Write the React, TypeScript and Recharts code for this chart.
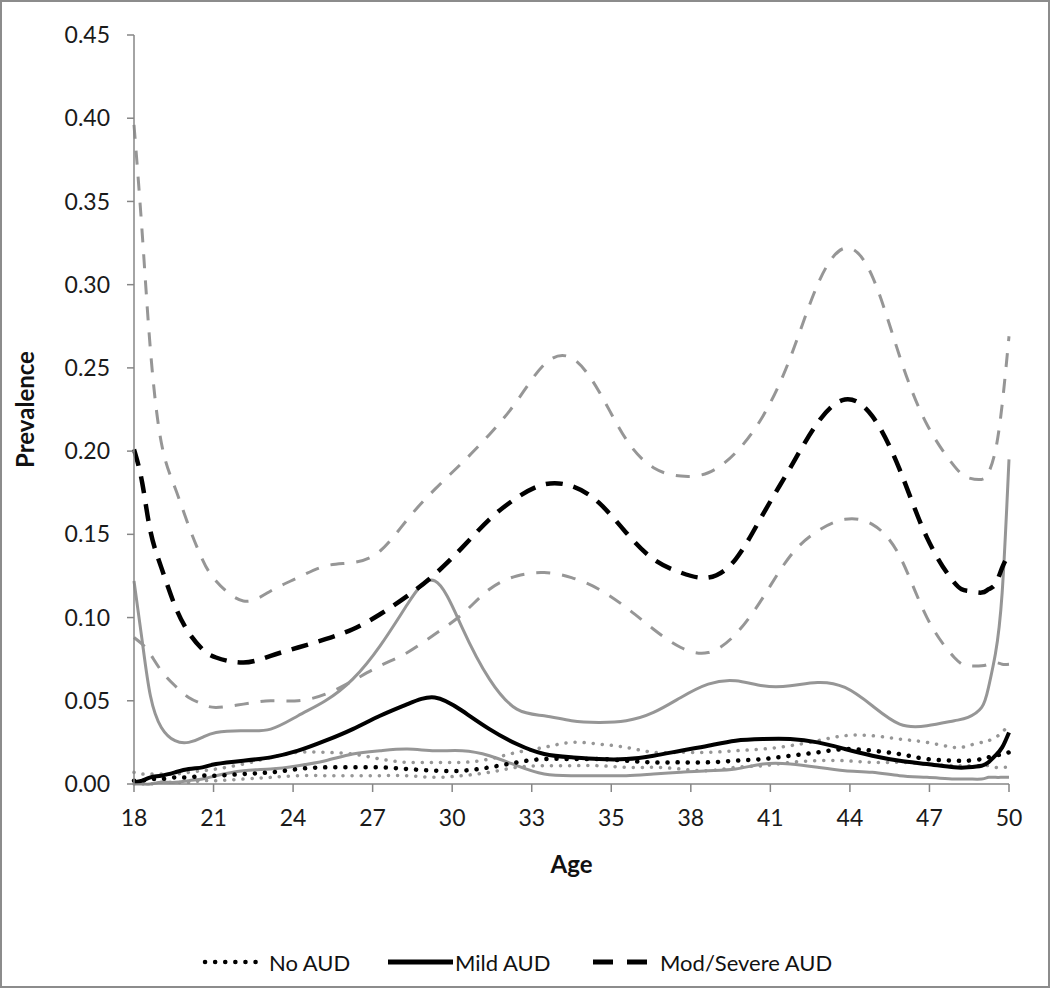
import React from 'react';
import { LineChart, Line, XAxis, YAxis, Legend } from 'recharts';

// Age grid (years)
const ages = [18, 18.3, 18.6, 19, 19.5, 20, 20.5, 21, 22, 23, 24, 25, 26, 27, 28, 29, 30, 31, 32, 33, 34, 35, 36, 37, 38, 39, 40, 41, 42, 43, 44, 45, 46, 47, 48, 48.5, 49, 49.25, 49.5, 49.75, 50];

// Mod/Severe AUD
const modSevereMean = [0.201, 0.181, 0.152, 0.130, 0.107, 0.091, 0.081, 0.076, 0.073, 0.077, 0.082, 0.087, 0.093, 0.102, 0.113, 0.126, 0.142, 0.159, 0.172, 0.180, 0.179, 0.169, 0.151, 0.135, 0.127, 0.124, 0.135, 0.162, 0.190, 0.217, 0.231, 0.221, 0.189, 0.148, 0.121, 0.116, 0.115, 0.117, 0.120, 0.130, 0.138];
const modSevereUpper = [0.396, 0.331, 0.261, 0.205, 0.178, 0.155, 0.135, 0.122, 0.110, 0.116, 0.124, 0.131, 0.133, 0.140, 0.159, 0.177, 0.193, 0.210, 0.230, 0.252, 0.256, 0.236, 0.207, 0.190, 0.185, 0.187, 0.199, 0.221, 0.256, 0.300, 0.322, 0.305, 0.257, 0.216, 0.191, 0.184, 0.183, 0.187, 0.200, 0.228, 0.269];
const modSevereLower = [0.088, 0.084, 0.078, 0.068, 0.059, 0.052, 0.048, 0.046, 0.048, 0.050, 0.050, 0.054, 0.062, 0.071, 0.079, 0.090, 0.102, 0.117, 0.125, 0.127, 0.124, 0.117, 0.106, 0.093, 0.082, 0.079, 0.090, 0.112, 0.137, 0.152, 0.159, 0.156, 0.137, 0.100, 0.076, 0.071, 0.071, 0.072, 0.073, 0.072, 0.072];

// Mild AUD
const mildMean = [0.001, 0.002, 0.004, 0.005, 0.007, 0.009, 0.010, 0.012, 0.014, 0.016, 0.020, 0.026, 0.033, 0.041, 0.048, 0.052, 0.044, 0.033, 0.024, 0.018, 0.016, 0.015, 0.015, 0.017, 0.020, 0.023, 0.026, 0.027, 0.027, 0.025, 0.021, 0.017, 0.014, 0.012, 0.010, 0.010, 0.011, 0.013, 0.017, 0.022, 0.031];
const mildUpper = [0.122, 0.086, 0.053, 0.034, 0.026, 0.025, 0.028, 0.031, 0.032, 0.033, 0.041, 0.050, 0.063, 0.083, 0.108, 0.122, 0.094, 0.063, 0.045, 0.041, 0.038, 0.037, 0.038, 0.043, 0.052, 0.060, 0.062, 0.059, 0.059, 0.061, 0.058, 0.047, 0.036, 0.035, 0.038, 0.040, 0.046, 0.058, 0.078, 0.115, 0.195];
const mildLower = [0.000, 0.000, 0.000, 0.001, 0.001, 0.002, 0.003, 0.005, 0.008, 0.009, 0.011, 0.014, 0.018, 0.020, 0.021, 0.020, 0.020, 0.017, 0.011, 0.006, 0.005, 0.005, 0.005, 0.006, 0.007, 0.008, 0.009, 0.012, 0.012, 0.010, 0.008, 0.007, 0.005, 0.004, 0.003, 0.003, 0.003, 0.004, 0.004, 0.004, 0.004];

// No AUD
const noAudMean = [0.002, 0.002, 0.003, 0.003, 0.004, 0.004, 0.005, 0.005, 0.006, 0.007, 0.009, 0.010, 0.010, 0.010, 0.009, 0.008, 0.008, 0.010, 0.013, 0.015, 0.015, 0.015, 0.014, 0.013, 0.013, 0.013, 0.014, 0.015, 0.017, 0.019, 0.021, 0.020, 0.018, 0.015, 0.014, 0.014, 0.015, 0.016, 0.017, 0.018, 0.019];
const noAudUpper = [0.007, 0.006, 0.006, 0.006, 0.006, 0.007, 0.008, 0.009, 0.012, 0.016, 0.019, 0.019, 0.018, 0.015, 0.013, 0.013, 0.013, 0.015, 0.019, 0.022, 0.025, 0.024, 0.022, 0.019, 0.019, 0.019, 0.020, 0.021, 0.023, 0.026, 0.029, 0.029, 0.027, 0.025, 0.022, 0.023, 0.025, 0.026, 0.028, 0.031, 0.036];
const noAudLower = [0.000, 0.000, 0.000, 0.001, 0.001, 0.001, 0.002, 0.002, 0.003, 0.004, 0.005, 0.005, 0.005, 0.005, 0.005, 0.004, 0.005, 0.007, 0.010, 0.011, 0.011, 0.011, 0.010, 0.010, 0.009, 0.008, 0.010, 0.011, 0.013, 0.014, 0.014, 0.013, 0.013, 0.012, 0.011, 0.011, 0.011, 0.011, 0.010, 0.010, 0.010];

// Axis labels
const xTickLabels = ['18', '21', '24', '27', '30', '33', '35', '38', '41', '44', '47', '50'];
const yTicks = [0, 0.05, 0.1, 0.15, 0.2, 0.25, 0.3, 0.35, 0.4, 0.45];
const legendLabels = ['No AUD', 'Mild AUD', 'Mod/Severe AUD'];

const data = ages.map((age, i) => ({
  age,
  modSevereMean: modSevereMean[i],
  modSevereUpper: modSevereUpper[i],
  modSevereLower: modSevereLower[i],
  mildMean: mildMean[i],
  mildUpper: mildUpper[i],
  mildLower: mildLower[i],
  noAudMean: noAudMean[i],
  noAudUpper: noAudUpper[i],
  noAudLower: noAudLower[i],
}));

const AGE_MIN = 18;
const AGE_MAX = 50;
const xTicks = xTickLabels.map((_, i) => AGE_MIN + (i * (AGE_MAX - AGE_MIN)) / (xTickLabels.length - 1));

const GRAY = '#969696';
const AXIS = '#868686';
const FONT = 'Lato, "Open Sans", sans-serif';
const CURVE = 'natural';

const DOTTED_BLACK = '0.1 10';
const DOTTED_GRAY = '0.1 9';
const DASHED_BLACK = '17 11';
const DASHED_GRAY = '14 12';

const renderLegend = () => (
  <svg width={700} height={44} style={{ display: 'block' }}>
    <g fontFamily={FONT} fontSize={22} fill="#111">
      <line x1={17} y1={22} x2={68} y2={22} stroke="#000" strokeWidth={4.5} strokeDasharray={DOTTED_BLACK} strokeLinecap="round" />
      <text x={81} y={22} dominantBaseline="central">{legendLabels[0]}</text>
      <line x1={200} y1={22} x2={265} y2={22} stroke="#000" strokeWidth={5} />
      <text x={267} y={22} dominantBaseline="central">{legendLabels[1]}</text>
      <line x1={405} y1={22} x2={459} y2={22} stroke="#000" strokeWidth={5} strokeDasharray="20 14" />
      <text x={472} y={22} dominantBaseline="central">{legendLabels[2]}</text>
    </g>
  </svg>
);

export default function App() {
  return (
    <div style={{ position: 'absolute', left: 0, top: 0, width: 1050, height: 988, background: '#fff' }}>
      <LineChart
        width={1050}
        height={988}
        data={data}
        margin={{ top: 35, right: 41, left: 0, bottom: 144 }}
      >
        <XAxis
          dataKey="age"
          type="number"
          domain={[AGE_MIN, AGE_MAX]}
          ticks={xTicks}
          interval={0}
          tickFormatter={(_v: number, i: number) => xTickLabels[i]}
          height={60}
          tickSize={8}
          tickMargin={18}
          stroke={AXIS}
          axisLine={{ stroke: AXIS, strokeWidth: 1.5 }}
          tickLine={{ stroke: AXIS, strokeWidth: 1.5 }}
          tick={{ fontFamily: FONT, fontSize: 23, fill: '#1a1a1a' }}
          label={{ value: 'Age', position: 'bottom', offset: 12, style: { fontFamily: FONT, fontSize: 24, fontWeight: 700, fill: '#111' } }}
        />
        <YAxis
          type="number"
          domain={[0, 0.45]}
          ticks={yTicks}
          interval={0}
          width={134}
          tickSize={7}
          tickMargin={17}
          tickFormatter={(v: number) => v.toFixed(2)}
          axisLine={{ stroke: AXIS, strokeWidth: 1.5 }}
          tickLine={{ stroke: AXIS, strokeWidth: 1.5 }}
          tick={{ fontFamily: FONT, fontSize: 23, fill: '#1a1a1a' }}
          label={{ value: 'Prevalence', angle: -90, position: 'insideLeft', offset: 25, style: { textAnchor: 'middle', fontFamily: FONT, fontSize: 24, fontWeight: 700, fill: '#111' } }}
        />
        <Legend
          verticalAlign="middle"
          align="center"
          content={renderLegend}
          wrapperStyle={{ left: 188, top: 940, width: 700, height: 44 }}
        />

        {/* confidence bands (gray) */}
        <Line dataKey="noAudUpper" type={CURVE} stroke={GRAY} strokeWidth={3.5} strokeDasharray={DOTTED_GRAY} strokeLinecap="round" dot={false} activeDot={false} isAnimationActive={false} legendType="none" />
        <Line dataKey="noAudLower" type={CURVE} stroke={GRAY} strokeWidth={3.5} strokeDasharray={DOTTED_GRAY} strokeLinecap="round" dot={false} activeDot={false} isAnimationActive={false} legendType="none" />
        <Line dataKey="mildUpper" type={CURVE} stroke={GRAY} strokeWidth={3} dot={false} activeDot={false} isAnimationActive={false} legendType="none" />
        <Line dataKey="mildLower" type={CURVE} stroke={GRAY} strokeWidth={3} dot={false} activeDot={false} isAnimationActive={false} legendType="none" />
        <Line dataKey="modSevereUpper" type={CURVE} stroke={GRAY} strokeWidth={3} strokeDasharray={DASHED_GRAY} dot={false} activeDot={false} isAnimationActive={false} legendType="none" />
        <Line dataKey="modSevereLower" type={CURVE} stroke={GRAY} strokeWidth={3} strokeDasharray={DASHED_GRAY} dot={false} activeDot={false} isAnimationActive={false} legendType="none" />

        {/* means (black) */}
        <Line dataKey="noAudMean" type={CURVE} stroke="#000" strokeWidth={4.5} strokeDasharray={DOTTED_BLACK} strokeLinecap="round" dot={false} activeDot={false} isAnimationActive={false} legendType="none" />
        <Line dataKey="mildMean" type={CURVE} stroke="#000" strokeWidth={4} dot={false} activeDot={false} isAnimationActive={false} legendType="none" />
        <Line dataKey="modSevereMean" type={CURVE} stroke="#000" strokeWidth={4.5} strokeDasharray={DASHED_BLACK} dot={false} activeDot={false} isAnimationActive={false} legendType="none" />
      </LineChart>
      <div
        style={{
          position: 'absolute',
          left: 0,
          top: 0,
          width: 1050,
          height: 988,
          boxSizing: 'border-box',
          border: '2px solid #8c8c8c',
          pointerEvents: 'none',
        }}
      />
    </div>
  );
}
